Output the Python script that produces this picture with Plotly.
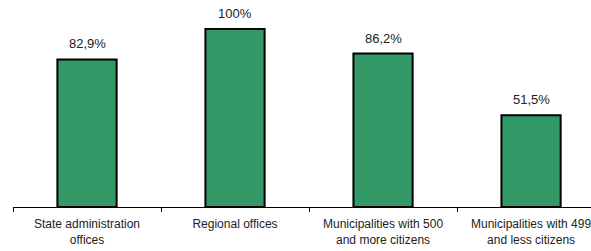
import plotly.graph_objects as go

categories = ["State administration<br>offices", "Regional offices",
              "Municipalities with 500<br>and more citizens",
              "Municipalities with 499<br>and less citizens"]
values = [82.9, 100.0, 86.2, 51.5]
value_labels = ["82,9%", "100%", "86,2%", "51,5%"]

fig = go.Figure()
fig.add_trace(go.Bar(
    x=categories, y=values, width=0.4,
    marker=dict(color="#339966", line=dict(color="#000000", width=2)),
    hoverinfo="skip",
))
for c, v, t in zip(categories, values, value_labels):
    fig.add_annotation(x=c, y=v, text=t, showarrow=False, yanchor="bottom",
                       yshift=6, font=dict(size=13, color="#222222",
                                           family="Liberation Sans, Arial"))

fig.update_layout(
    width=591, height=251,
    margin=dict(l=13, r=0, t=0, b=44),
    paper_bgcolor="white", plot_bgcolor="white",
    showlegend=False,
    font=dict(family="Liberation Sans, Arial", size=12, color="#222222"),
)
fig.update_xaxes(
    range=[-0.5, 3.405], showline=True, linecolor="#000000", linewidth=1,
    ticks="outside", tickson="boundaries", ticklen=4, tickcolor="#000000",
    showgrid=False, automargin=False, tickfont=dict(size=12),
    ticklabelstandoff=6,
)
fig.update_yaxes(range=[0, 116.3], visible=False, showgrid=False, zeroline=False)

fig.write_html(
    "out.html",
    config={"displayModeBar": False, "staticPlot": True},
    post_script="document.body.style.margin='0';document.body.style.overflow='hidden';",
)
